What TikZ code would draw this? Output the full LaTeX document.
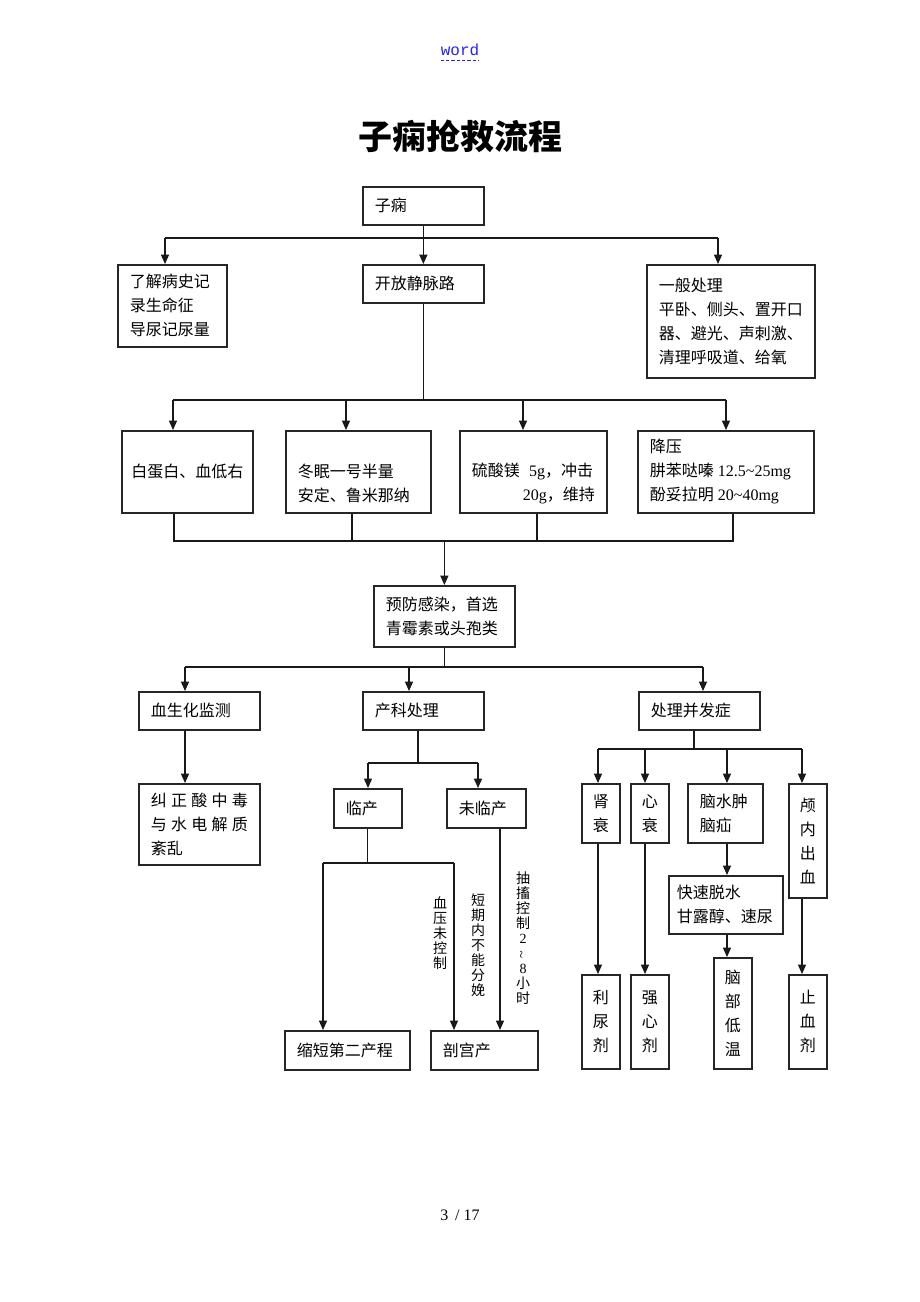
\documentclass[tikz,border=0pt]{standalone}
\usepackage{fontspec}
\setmainfont{Noto Sans CJK SC}
\newfontfamily\lat{Liberation Serif}
\newfontfamily\mono{Liberation Mono}
\usetikzlibrary{arrows.meta}
\definecolor{linkblue}{RGB}{35,35,250}

\begin{document}
\begin{tikzpicture}
  [x=0.75pt, y=-0.75pt,
   box/.style={draw=black!85, line width=1.3pt, anchor=north west, inner xsep=9pt, inner ysep=0pt,
               align=left, font=\fontsize{12}{18}\selectfont},
   col/.style={box, inner xsep=3pt, text width=22.5pt, align=center},
   vlab/.style={align=center, inner sep=0pt, font=\fontsize{10.5}{11.25}\selectfont},
   conn/.style={line width=0.9pt, draw=black!90},
   arr/.style={conn, -{Triangle[length=7pt, width=6pt]}}]
  \useasboundingbox (0,0) rectangle (920,1302);
  \fill[white] (0,0) rectangle (920,1302);

  \node[font=\mono\fontsize{12}{14}\selectfont, text=linkblue, inner sep=0pt] (word) at (460,50) {word};
  \draw[linkblue, line width=0.8pt, dash pattern=on 2.5pt off 1.5pt]
    ([yshift=-3pt]word.south west) -- ([yshift=-3pt]word.south east);
  \node[font=\fontsize{25.5}{30}\selectfont\bfseries] (title) at (460,136) {子痫抢救流程};
  \node[font=\lat\fontsize{12}{14}\selectfont] (page) at (460,1215) {3 \,/ 17};

  \node[box, text width=72.75pt, minimum height=28.5pt] (zixian) at (362,186) {子痫};
  \node[box, text width=63.75pt, minimum height=61.5pt] (liaojie) at (117,264) {了解病史记\\录生命征\\导尿记尿量};
  \node[box, text width=72.75pt, minimum height=28.5pt] (kaifang) at (362,264) {开放静脉路};
  \node[box, text width=108pt, minimum height=84.75pt] (yiban) at (646,264)
    {一般处理\\平卧、侧头、置开口\\器、避光、声刺激、\\清理呼吸道、给氧};

  \node[box, inner xsep=6pt, text width=86.25pt, minimum height=61.5pt, align=center] (baidan) at (121,430) {白蛋白、血低右};
  \node[box, text width=90.75pt, minimum height=61.5pt] (dongmian) at (285,430) {\phantom{冬}\\冬眠一号半量\\安定、鲁米那纳};
  \node[box, text width=92.25pt, minimum height=61.5pt] (liusuan) at (459,430)
    {\phantom{硫}\\硫酸镁\kern7pt{\lat 5g}，冲击\\\hspace*{\fill}{\lat 20g}，维持};
  \node[box, text width=114pt, minimum height=61.5pt] (jiangya) at (637,430)
    {降压\\肼苯哒嗪\kern3pt{\lat 12.5\textasciitilde25mg}\\酚妥拉明\kern3pt{\lat 20\textasciitilde40mg}};

  \node[box, text width=87.75pt, minimum height=45.75pt] (yufang) at (373,585) {预防感染，首选\\青霉素或头孢类};

  \node[box, text width=72.75pt, minimum height=28.5pt] (xuesheng) at (138,691) {血生化监测};
  \node[box, text width=72.75pt, minimum height=28.5pt] (chanke) at (362,691) {产科处理};
  \node[box, text width=72.75pt, minimum height=28.5pt] (bingfa) at (638,691) {处理并发症};
  \node[box, text width=72.75pt, minimum height=60.75pt] (jiuzheng) at (138,783)
    {纠\hfill 正\hfill 酸\hfill 中\hfill 毒\\与\hfill 水\hfill 电\hfill 解\hfill 质\\紊乱};

  \node[box, text width=33pt, minimum height=29.25pt] (linchan) at (333,788) {临产};
  \node[box, text width=41.25pt, minimum height=29.25pt] (weilin) at (446,788) {未临产};
  \node[box, text width=75.75pt, minimum height=29.25pt] (suoduan) at (284,1030) {缩短第二产程};
  \node[box, text width=62.25pt, minimum height=29.25pt] (pougong) at (430,1030) {剖宫产};
  \node[vlab] (xueya) at (440,933) {血\\压\\未\\控\\制};
  \node[vlab] (duanqi) at (478,945) {短\\期\\内\\不\\能\\分\\娩};
  \node[vlab] (chouchu) at (523,938)
    {抽\\搐\\控\\制\\{\lat 2}\\\rotatebox{90}{\lat\textasciitilde}\\{\lat 8}\\小\\时};

  \node[col, minimum height=44.25pt] (shenshuai) at (581,783) {肾\\衰};
  \node[col, minimum height=44.25pt] (xinshuai) at (630,783) {心\\衰};
  \node[box, text width=38.25pt, minimum height=44.25pt] (naoshui) at (687,783) {脑水肿\\脑疝};
  \node[col, minimum height=85.5pt] (lunei) at (788,783) {颅\\内\\出\\血};
  \node[box, inner xsep=6pt, text width=73.5pt, minimum height=43.5pt] (kuaisu) at (668,875) {快速脱水\\甘露醇、速尿};
  \node[col, minimum height=83.25pt] (naobu) at (713,957) {脑\\部\\低\\温};
  \node[col, minimum height=70.5pt] (liniao) at (581,974) {利\\尿\\剂};
  \node[col, minimum height=70.5pt] (qiangxin) at (630,974) {强\\心\\剂};
  \node[col, minimum height=70.5pt] (zhixue) at (788,974) {止\\血\\剂};

  % first split
  \coordinate (s1) at (165,238);
  \coordinate (s2) at (718,238);
  \draw[arr] (zixian.south) -- (kaifang.north);
  \draw[conn] (s1) -- (s2);
  \draw[arr] (s1) -- (s1 |- liaojie.north);
  \draw[arr] (s2) -- (s2 |- yiban.north);

  % four treatments
  \coordinate (t1) at (173,400);
  \coordinate (t2) at (346,400);
  \coordinate (t3) at (523,400);
  \coordinate (t4) at (726,400);
  \draw[conn] (kaifang.south) -- (kaifang.south |- t1);
  \draw[conn] (t1) -- (t4);
  \draw[arr] (t1) -- (t1 |- baidan.north);
  \draw[arr] (t2) -- (t2 |- dongmian.north);
  \draw[arr] (t3) -- (t3 |- liusuan.north);
  \draw[arr] (t4) -- (t4 |- jiangya.north);

  % merge
  \coordinate (u1) at (174,541);
  \coordinate (u2) at (352,541);
  \coordinate (u3) at (537,541);
  \coordinate (u4) at (733,541);
  \draw[conn] (u1 |- baidan.south) -- (u1) -- (u4) -- (u4 |- jiangya.south);
  \draw[conn] (u2 |- dongmian.south) -- (u2);
  \draw[conn] (u3 |- liusuan.south) -- (u3);
  \draw[arr] (yufang.north |- u1) -- (yufang.north);

  % second split
  \coordinate (v1) at (185,667);
  \coordinate (v2) at (409,667);
  \coordinate (v3) at (703,667);
  \draw[conn] (yufang.south) -- (yufang.south |- v1);
  \draw[conn] (v1) -- (v3);
  \draw[arr] (v1) -- (v1 |- xuesheng.north);
  \draw[arr] (v2) -- (v2 |- chanke.north);
  \draw[arr] (v3) -- (v3 |- bingfa.north);
  \draw[arr] (v1 |- xuesheng.south) -- (v1 |- jiuzheng.north);

  % obstetric branch
  \coordinate (w0) at (418,763);
  \coordinate (w1) at (368,763);
  \coordinate (w2) at (478,763);
  \draw[conn] (w0 |- chanke.south) -- (w0);
  \draw[conn] (w1) -- (w2);
  \draw[arr] (w1) -- (w1 |- linchan.north);
  \draw[arr] (w2) -- (w2 |- weilin.north);
  \coordinate (x1) at (323,863);
  \coordinate (x2) at (454,863);
  \coordinate (x3) at (500,863);
  \draw[conn] (linchan.south) -- (linchan.south |- x1);
  \draw[conn] (x1) -- (x2);
  \draw[arr] (x1) -- (x1 |- suoduan.north);
  \draw[arr] (x2) -- (x2 |- pougong.north);
  \draw[arr] (x3 |- weilin.south) -- (x3 |- pougong.north);

  % complications
  \coordinate (y0) at (694,749);
  \coordinate (y1) at (598,749);
  \coordinate (y2) at (645,749);
  \coordinate (y3) at (727,749);
  \coordinate (y4) at (802,749);
  \draw[conn] (y0 |- bingfa.south) -- (y0);
  \draw[conn] (y1) -- (y4);
  \draw[arr] (y1) -- (y1 |- shenshuai.north);
  \draw[arr] (y2) -- (y2 |- xinshuai.north);
  \draw[arr] (y3) -- (y3 |- naoshui.north);
  \draw[arr] (y4) -- (y4 |- lunei.north);
  \draw[arr] (y1 |- shenshuai.south) -- (y1 |- liniao.north);
  \draw[arr] (y2 |- xinshuai.south) -- (y2 |- qiangxin.north);
  \draw[arr] (y3 |- naoshui.south) -- (y3 |- kuaisu.north);
  \draw[arr] (y3 |- kuaisu.south) -- (y3 |- naobu.north);
  \draw[arr] (y4 |- lunei.south) -- (y4 |- zhixue.north);
\end{tikzpicture}
\end{document}
